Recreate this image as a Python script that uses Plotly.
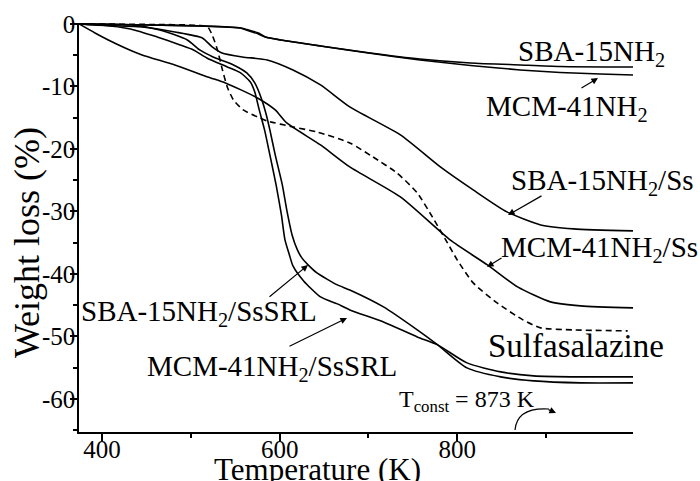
import plotly.graph_objects as go

# ---------------- data ----------------
temp_sba_nh2 = [374, 454, 510, 556, 565, 576, 584, 601, 646, 702, 758, 815, 871, 916, 998]
loss_sba_nh2 = [0, -0.16, -0.32, -0.64, -0.96, -1.44, -2.08, -2.56, -3.52, -4.64, -5.6, -6.24, -6.56, -6.8, -6.88]

temp_mcm_nh2 = [374, 454, 510, 556, 565, 576, 584, 601, 646, 702, 758, 815, 871, 916, 961, 998]
loss_mcm_nh2 = [0, -0.16, -0.32, -0.64, -1.1, -1.6, -2.1, -2.56, -3.52, -4.7, -5.76, -6.64, -7.36, -7.76, -8.0, -8.16]

temp_sba_ss = [374, 389, 445, 482, 513, 524, 535, 558, 586, 615, 646, 679, 736, 781, 818, 856, 894, 931, 998]
loss_sba_ss = [0, -0.16, -0.48, -1.28, -2.24, -3.68, -4.64, -5.28, -5.76, -7.36, -9.76, -13.28, -17.76,
               -22.88, -26.56, -30.08, -32.16, -32.8, -33.12]

temp_mcm_ss = [374, 392, 407, 426, 445, 482, 519, 539, 575, 595, 608, 646, 679, 736, 792, 834, 868, 905, 939, 998]
loss_mcm_ss = [0, -1.44, -2.56, -3.84, -4.96, -6.56, -8.48, -9.44, -11.84, -13.76, -15.84, -19.36, -22.88,
               -27.68, -34.56, -38.56, -42.08, -44.48, -45.12, -45.44]

temp_mcm_srl = [374, 398, 432, 462, 488, 503, 518, 541, 556, 567, 572, 577, 583, 589, 596, 602, 606, 611, 615,
                627, 646, 665, 679, 717, 755, 778, 811, 849, 886, 939, 998]
loss_mcm_srl = [0, -0.16, -0.8, -2.08, -3.36, -4.16, -5.44, -6.88, -7.84, -9.28, -10.88, -13.76, -16.96, -20.96,
                -25.76, -30.56, -34.56, -36.96, -38.72, -41.12, -43.68, -44.8, -45.76, -47.68, -50.08, -51.36,
                -54.24, -55.68, -56.32, -56.48, -56.48]

temp_sba_srl = [374, 435, 465, 496, 510, 525, 548, 563, 572, 580, 585, 589, 595, 603, 608, 614, 620, 625, 632,
                642, 665, 679, 717, 755, 778, 811, 849, 886, 939, 998]
loss_sba_srl = [0, -0.16, -0.96, -2.56, -4.16, -5.28, -6.56, -7.84, -9.44, -12.16, -14.56, -16.96, -20.96,
                -25.76, -29.76, -33.76, -36.16, -37.44, -38.56, -39.84, -41.76, -42.56, -45.28, -48.96, -51.36,
                -55.04, -56.48, -57.12, -57.44, -57.44]

temp_sulfa = [374, 454, 510, 519, 524, 530, 535, 541, 548, 559, 575, 586, 615, 642, 679, 705, 732, 755, 772,
              789, 800, 818, 845, 874, 894, 931, 992]
loss_sulfa = [0, -0.08, -0.24, -0.48, -1.76, -4.16, -7.04, -10.08, -12.16, -13.76, -14.88, -15.52, -16.48,
              -17.28, -19.04, -21.28, -23.84, -27.04, -30.88, -35.04, -37.76, -41.44, -44.64, -47.36, -48.64,
              -48.96, -49.12]

x_ticks = [400, 600, 800]
x_minor = [500, 700, 900]
y_ticks = [0, -10, -20, -30, -40, -50, -60]
y_ticklabels = ["0", "-10", "-20", "-30", "-40", "-50", "-60"]
y_minor = [-5, -15, -25, -35, -45, -55, -65]

# ---------------- layout geometry ----------------
W, H = 700, 481
ML, MR, MT, MB = 79, 67, 23, 49
XR = [374, 998]
YR = [-65.3, 0.15]
FONT = "Liberation Serif"


def px2x(px):
    return XR[0] + (px - ML) * (XR[1] - XR[0]) / (W - ML - MR)


def px2y(py):
    return YR[1] - (py - MT) * (YR[1] - YR[0]) / (H - MT - MB)


def px2px(px):
    return (px - ML) / (W - ML - MR)


def py2py(py):
    return 1 - (py - MT) / (H - MT - MB)


fig = go.Figure()
series = [
    (temp_sba_nh2, loss_sba_nh2, "solid"),
    (temp_mcm_nh2, loss_mcm_nh2, "solid"),
    (temp_sba_ss, loss_sba_ss, "solid"),
    (temp_mcm_ss, loss_mcm_ss, "solid"),
    (temp_mcm_srl, loss_mcm_srl, "solid"),
    (temp_sba_srl, loss_sba_srl, "solid"),
    (temp_sulfa, loss_sulfa, "6px,4px"),
]
for t, w, dash in series:
    fig.add_trace(go.Scatter(x=t, y=w, mode="lines", showlegend=False, hoverinfo="skip",
                             line=dict(color="black", width=1.6, dash=dash,
                                       shape="spline", smoothing=0.6)))

annotations = []
labels = [
    ("SBA-15NH<sub>2</sub>", 591, 53, 29),
    ("MCM-41NH<sub>2</sub>", 567, 108, 29),
    ("SBA-15NH<sub>2</sub>/Ss", 602, 182, 29),
    ("MCM-41NH<sub>2</sub>/Ss", 599, 249, 29),
    ("SBA-15NH<sub>2</sub>/SsSRL", 199, 313, 29),
    ("MCM-41NH<sub>2</sub>/SsSRL", 272, 368, 29),
    ("Sulfasalazine", 576, 346, 33),
    ("T<sub>const</sub> = 873 K", 467, 401, 24),
]
for txt, px, py, fs in labels:
    annotations.append(dict(text=txt, x=px2px(px), y=py2py(py), xref="paper", yref="paper",
                            showarrow=False, xanchor="center", yanchor="middle",
                            font=dict(family=FONT, size=fs, color="black")))

arrows = [
    ((580, 89), (598, 78)),
    ((543, 195), (508, 215)),
    ((503, 257), (487, 267)),
    ((268, 298), (308, 265)),
    ((288, 347), (347, 318)),
]
for (tx, ty), (hx, hy) in arrows:
    annotations.append(dict(text="", x=px2x(hx), y=px2y(hy), ax=px2x(tx), ay=px2y(ty),
                            xref="x", yref="y", axref="x", ayref="y", showarrow=True,
                            arrowhead=2, arrowsize=1.1, arrowwidth=1.2, arrowcolor="black",
                            standoff=0))

# curved arrow near T_const
annotations.append(dict(text="", x=px2x(556), y=px2y(413), ax=-9, ay=-4, xref="x", yref="y",
                        showarrow=True, arrowhead=2, arrowsize=1.1, arrowwidth=1.2,
                        arrowcolor="black", standoff=0))

# axis titles
annotations.append(dict(text="Temperature (K)", x=px2px(317), y=py2py(469), xref="paper", yref="paper",
                        showarrow=False, xanchor="center", yanchor="middle",
                        font=dict(family=FONT, size=31, color="black")))
annotations.append(dict(text="Weight loss (%)", x=px2px(27), y=py2py(243), xref="paper", yref="paper",
                        showarrow=False, xanchor="center", yanchor="middle", textangle=-90,
                        font=dict(family=FONT, size=36, color="black")))

shapes = [dict(type="path", xref="x", yref="y",
               path="M {:.2f},{:.3f} Q {:.2f},{:.3f} {:.2f},{:.3f}".format(
                   px2x(515), px2y(430), px2x(517), px2y(407), px2x(549), px2y(409)),
               line=dict(color="black", width=1.2))]

fig.update_layout(
    width=W, height=H,
    margin=dict(l=ML, r=MR, t=MT, b=MB, pad=0, autoexpand=False),
    paper_bgcolor="white", plot_bgcolor="white",
    font=dict(family=FONT, size=24, color="black"),
    showlegend=False,
    annotations=annotations,
    shapes=shapes,
    xaxis=dict(range=XR, showgrid=False, zeroline=False, showline=True, linecolor="black",
               linewidth=1.5, ticks="outside", ticklen=7, tickwidth=1.5, tickcolor="black",
               tickmode="array", tickvals=x_ticks, ticktext=[str(v) for v in x_ticks],
               ticklabelstandoff=-13, automargin=False,
               tickfont=dict(family=FONT, size=25, color="black"),
               minor=dict(tickmode="array", tickvals=x_minor, ticks="outside", ticklen=4,
                          tickwidth=1.5, tickcolor="black", showgrid=False)),
    yaxis=dict(range=YR, showgrid=False, zeroline=False, showline=True, linecolor="black",
               linewidth=1.5, ticks="outside", ticklen=7, tickwidth=1.5, tickcolor="black",
               tickmode="array", tickvals=y_ticks, ticktext=y_ticklabels,
               ticklabelstandoff=-10, automargin=False,
               tickfont=dict(family=FONT, size=25, color="black"),
               minor=dict(tickmode="array", tickvals=y_minor, ticks="outside", ticklen=4,
                          tickwidth=1.5, tickcolor="black", showgrid=False)),
)

fig.write_html("out.html", config={"displayModeBar": False},
               post_script="document.body.style.margin='0';document.body.style.overflow='hidden';")
